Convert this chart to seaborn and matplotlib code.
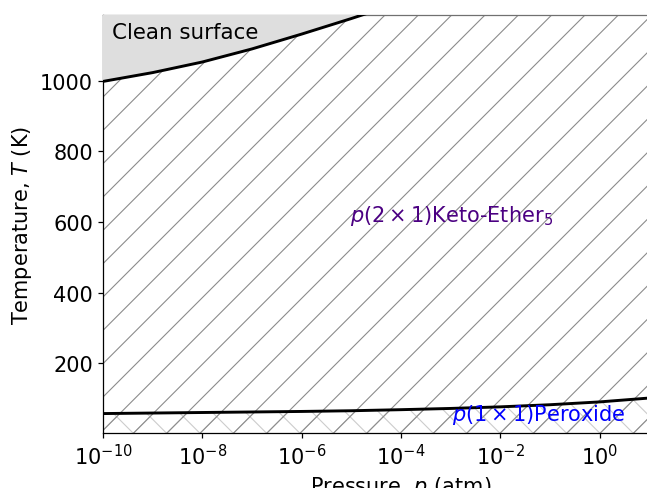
import numpy as np
import pandas as pd
import matplotlib
matplotlib.use("Agg")
import matplotlib.pyplot as plt
import seaborn as sns

# phase boundaries (log10 of pressure in atm, T in K)
log_p = [-10, -9, -8, -7, -6, -5, -4, -3, -2, -1, 0, 1, 2]
clean_T = [998, 1023, 1053, 1090, 1132, 1176, 1222, 1270, 1320, 1372, 1426, 1482, 1540]
peroxide_T = [58, 59.5, 61, 62.5, 64, 66, 69, 72.5, 77, 83, 91, 102, 116]

x_ticks = [1e-10, 1e-8, 1e-6, 1e-4, 1e-2, 1e0, 1e2]
y_ticks = [200, 400, 600, 800, 1000]

df = pd.DataFrame({"p": 10.0 ** np.array(log_p), "clean": clean_T, "peroxide": peroxide_T})

plt.rcParams.update({
    "font.size": 15,
    "hatch.linewidth": 0.8,
    "axes.linewidth": 0.9,
    "xtick.major.width": 0.9,
    "ytick.major.width": 0.9,
    "xtick.major.size": 3.6,
    "ytick.major.size": 3.6,
    "xtick.major.pad": 3.6,
    "ytick.major.pad": 3.6,
    "axes.labelpad": 4,
})

fig = plt.figure(figsize=(6.47, 4.89), dpi=100)
ax = fig.add_axes([103 / 647, 55 / 489, 596 / 647, 418 / 489])
ymin, ymax = 3, 1186

# p(1x1) peroxide region
ax.fill_between(df["p"], ymin, df["peroxide"], facecolor="none", edgecolor="#cccccc",
                hatch="x", linewidth=0, zorder=1)
# keto-ether region (hatch runs under everything below the clean line)
ax.fill_between(df["p"], ymin, df["clean"], facecolor="none", edgecolor="#8c8c8c",
                hatch="/", linewidth=0, zorder=2)
# clean surface
ax.fill_between(df["p"], df["clean"], 2000, facecolor="#dedede", linewidth=0, zorder=3)

sns.lineplot(data=df, x="p", y="clean", color="black", linewidth=2.1, ax=ax, zorder=4)
sns.lineplot(data=df, x="p", y="peroxide", color="black", linewidth=2.1, ax=ax, zorder=4)

ax.set_xscale("log")
ax.set_xlim(1e-10, 1e2)
ax.set_ylim(ymin, ymax)
ax.set_xticks(x_ticks)
ax.minorticks_off()
ax.set_yticks(y_ticks)
ax.spines["top"].set_color("#707070")

ax.text(10 ** -9.82, 1139, "Clean surface", fontsize=15.4, va="center", zorder=5)
ax.text(10 ** -5.03, 619, r"$p(2\times1)$Keto-Ether$_5$", color="indigo",
        fontsize=15, va="center", zorder=5)
ax.text(10 ** -2.98, 56, r"$p(1\times1)$Peroxide", color="blue",
        fontsize=15, va="center", zorder=5)

ax.set_xlabel(r"Pressure, $p$ (atm)")
ax.set_ylabel(r"Temperature, $T$ (K)")

fig.savefig("out.png", dpi=100)
